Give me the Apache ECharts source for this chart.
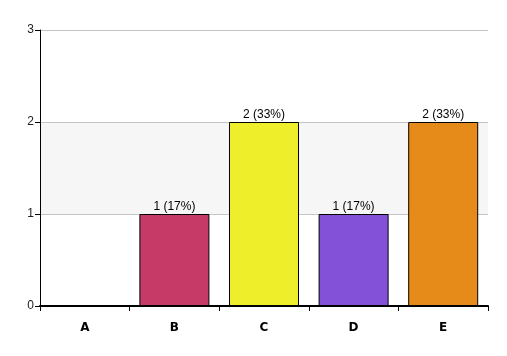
<!DOCTYPE html>
<html><head><meta charset="utf-8">
<script src="https://cdn.jsdelivr.net/npm/echarts@6/dist/echarts.min.js"></script>
<style>html,body{margin:0;padding:0;background:#fff}#c{width:507px;height:356px}</style>
</head><body><div id="c"></div>
<script>
const categories = ['A','B','C','D','E'];
const values = [0,1,2,1,2];
const colors = ['#888888','#c63a68','#efee2a','#8350d8','#e68a1a'];
const yTicks = [0,1,2,3];
const total = values.reduce((a,b)=>a+b,0);
const chart = echarts.init(document.getElementById('c'));
chart.setOption({
  animation:false,
  grid:{left:40,right:19,top:30,bottom:50},
  xAxis:{type:'category',data:categories,
    axisLine:{lineStyle:{color:'#000',width:2}},
    axisTick:{show:true,length:5,lineStyle:{color:'#000'}},
    axisLabel:{color:'#000',fontWeight:'bold',fontSize:12,fontFamily:'DejaVu Sans',margin:16}},
  yAxis:{type:'value',min:0,max:3,interval:1,
    axisLine:{show:true,lineStyle:{color:'#000'}},
    axisTick:{show:true,length:5,lineStyle:{color:'#000'}},
    axisLabel:{color:'#222',fontSize:12,fontFamily:'Liberation Sans',margin:6,
      formatter:v=>yTicks.includes(v)?String(v):''},
    splitLine:{lineStyle:{color:'#c4c4c4'}},
    splitArea:{show:true,areaStyle:{color:['#ffffff','#f6f6f6']}}},
  series:[{type:'bar',barWidth:70,
    data:values.map((v,i)=>({value:v,itemStyle:{color:colors[i],borderColor:'#000',borderWidth:1}})),
    label:{show:true,position:'top',distance:1,color:'#000',fontSize:12,fontFamily:'Liberation Sans',
      formatter:p=>p.value>0?p.value+' ('+Math.round(p.value/total*100)+'%)':''}}]
});
</script></body></html>
